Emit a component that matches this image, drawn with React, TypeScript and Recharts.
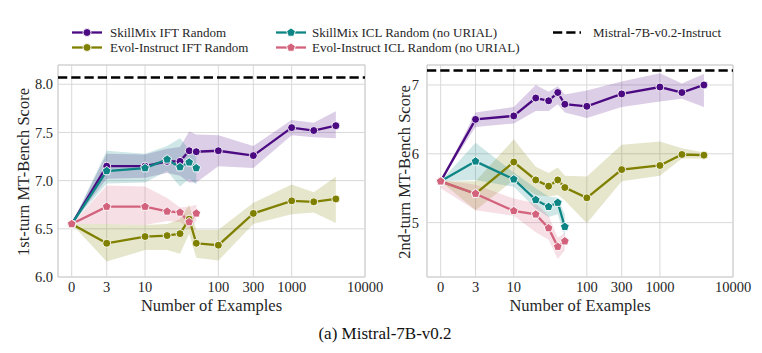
import React from 'react';
import { ComposedChart, Line, Area, XAxis, YAxis, CartesianGrid, ReferenceLine, ReferenceArea } from 'recharts';

// ---------- data ----------
const xValues = [0, 3, 10, 20, 30, 40, 50, 100, 300, 1000, 2000, 4000];
const xValuesICL = [0, 3, 10, 20, 30, 40, 50];
const xTicks = [0, 3, 10, 100, 300, 1000, 10000];

// 1st-turn
const t1SkillMixIFT = [6.55, 7.15, 7.15, 7.2, 7.2, 7.31, 7.3, 7.31, 7.26, 7.55, 7.52, 7.57];
const t1SkillMixIFTLow = [6.55, 7.02, 7.03, 7.08, 7.05, 6.98, 6.98, 7.15, 7.13, 7.47, 7.45, 7.44];
const t1SkillMixIFTHigh = [6.55, 7.28, 7.27, 7.33, 7.35, 7.51, 7.48, 7.47, 7.36, 7.63, 7.6, 7.72];

const t1EvolIFT = [6.55, 6.35, 6.42, 6.43, 6.45, 6.6, 6.35, 6.33, 6.66, 6.79, 6.78, 6.81];
const t1EvolIFTLow = [6.55, 6.16, 6.28, 6.28, 6.24, 6.45, 6.2, 6.17, 6.55, 6.65, 6.67, 6.56];
const t1EvolIFTHigh = [6.55, 6.55, 6.54, 6.55, 6.6, 6.75, 6.49, 6.49, 6.77, 6.96, 6.88, 7.04];

const t1SkillMixICL = [6.55, 7.1, 7.13, 7.22, 7.14, 7.19, 7.13];
const t1SkillMixICLLow = [6.55, 6.97, 6.98, 7.1, 6.94, 7.02, 6.96];
const t1SkillMixICLHigh = [6.55, 7.31, 7.28, 7.36, 7.44, 7.32, 7.25];

const t1EvolICL = [6.55, 6.73, 6.73, 6.68, 6.67, 6.57, 6.66];
const t1EvolICLLow = [6.55, 6.55, 6.54, 6.58, 6.57, 6.5, 6.58];
const t1EvolICLHigh = [6.55, 6.95, 6.94, 6.82, 6.72, 6.73, 6.75];

const t1Instruct = 8.07;

// 2nd-turn
const t2SkillMixIFT = [5.6, 6.5, 6.55, 6.81, 6.77, 6.89, 6.72, 6.69, 6.87, 6.97, 6.89, 7.0];
const t2SkillMixIFTLow = [5.6, 6.39, 6.44, 6.62, 6.62, 6.72, 6.6, 6.52, 6.68, 6.76, 6.8, 6.68];
const t2SkillMixIFTHigh = [5.6, 6.6, 6.68, 7.0, 6.9, 6.98, 6.86, 6.92, 7.05, 7.17, 7.02, 7.16];

const t2EvolIFT = [5.6, 5.42, 5.88, 5.62, 5.53, 5.62, 5.51, 5.36, 5.77, 5.83, 5.99, 5.98];
const t2EvolIFTLow = [5.6, 5.18, 5.62, 5.4, 5.38, 5.4, 5.32, 4.99, 5.6, 5.68, 5.93, 5.93];
const t2EvolIFTHigh = [5.6, 5.6, 6.21, 5.81, 5.72, 5.8, 5.68, 5.67, 6.13, 6.18, 6.08, 6.02];

const t2SkillMixICL = [5.6, 5.89, 5.63, 5.33, 5.23, 5.29, 4.94];
const t2SkillMixICLLow = [5.6, 5.62, 5.52, 5.2, 5.08, 5.12, 4.8];
const t2SkillMixICLHigh = [5.6, 6.16, 5.73, 5.5, 5.38, 5.36, 5.12];

const t2EvolICL = [5.6, 5.42, 5.17, 5.12, 4.92, 4.65, 4.73];
const t2EvolICLLow = [5.5, 5.18, 5.1, 4.86, 4.75, 4.47, 4.6];
const t2EvolICLHigh = [5.62, 5.55, 5.35, 5.28, 5.1, 4.78, 4.85];

const t2Instruct = 7.21;

const legendLabels = [
  'SkillMix IFT Random',
  'Evol-Instruct IFT Random',
  'SkillMix ICL Random (no URIAL)',
  'Evol-Instruct ICL Random (no URIAL)',
  'Mistral-7B-v0.2-Instruct',
];

// ---------- styles ----------
const C_PURPLE = '#4b0a82';
const C_OLIVE = '#808000';
const C_TEAL = '#0e8585';
const C_PINK = '#d3637d';
const FONT = 'Liberation Serif, Times New Roman, serif';
const TEXT = '#262626';
const GRID = '#d9d9d9';

const toPos = (x: number) => (x === 0 ? 1 : x);

function buildTable(
  sIFT: number[], sIFTLo: number[], sIFTHi: number[],
  eIFT: number[], eIFTLo: number[], eIFTHi: number[],
  sICL: number[], sICLLo: number[], sICLHi: number[],
  eICL: number[], eICLLo: number[], eICLHi: number[],
) {
  return xValues.map((x, i) => {
    const row: any = {
      x: toPos(x),
      sIFT: sIFT[i], sIFTBand: [sIFTLo[i], sIFTHi[i]],
      eIFT: eIFT[i], eIFTBand: [eIFTLo[i], eIFTHi[i]],
    };
    if (i < xValuesICL.length) {
      row.sICL = sICL[i];
      row.sICLBand = [sICLLo[i], sICLHi[i]];
      row.eICL = eICL[i];
      row.eICLBand = [eICLLo[i], eICLHi[i]];
    }
    return row;
  });
}

const data1 = buildTable(
  t1SkillMixIFT, t1SkillMixIFTLow, t1SkillMixIFTHigh,
  t1EvolIFT, t1EvolIFTLow, t1EvolIFTHigh,
  t1SkillMixICL, t1SkillMixICLLow, t1SkillMixICLHigh,
  t1EvolICL, t1EvolICLLow, t1EvolICLHigh,
);
const data2 = buildTable(
  t2SkillMixIFT, t2SkillMixIFTLow, t2SkillMixIFTHigh,
  t2EvolIFT, t2EvolIFTLow, t2EvolIFTHigh,
  t2SkillMixICL, t2SkillMixICLLow, t2SkillMixICLHigh,
  t2EvolICL, t2EvolICLLow, t2EvolICLHigh,
);

const pentagon = (cx: number, cy: number, r: number) =>
  [0, 1, 2, 3, 4]
    .map((i) => {
      const a = -Math.PI / 2 + (i * 2 * Math.PI) / 5;
      return `${cx + r * Math.cos(a)},${cy + r * Math.sin(a)}`;
    })
    .join(' ');

const makeDot = (color: string, shape: 'circle' | 'pentagon') => (props: any) => {
  const { cx, cy, index } = props;
  if (cx == null || cy == null || Number.isNaN(cx) || Number.isNaN(cy)) return <g key={`n${index}`} />;
  if (shape === 'circle')
    return <circle key={`c${index}`} cx={cx} cy={cy} r={4} fill={color} stroke="#fff" strokeWidth={0.9} />;
  return <polygon key={`p${index}`} points={pentagon(cx, cy, 4.6)} fill={color} stroke="#fff" strokeWidth={0.9} />;
};

type PanelProps = {
  data: any[];
  left: number;
  width: number;
  marginLeft: number;
  marginRight: number;
  yDomain: [number, number];
  yTicks: number[];
  yFmt: (v: number) => string;
  refY: number;
  yTickMargin: number;
};

const X_DOMAIN: [number, number] = [0.65, 10000];

function Panel(p: PanelProps) {
  const tickStyle = { fontFamily: FONT, fontSize: 14.5, fill: TEXT };
  return (
    <div style={{ position: 'absolute', left: p.left, top: 0 }}>
      <ComposedChart
        width={p.width}
        height={353}
        data={p.data}
        margin={{ top: 65, right: p.marginRight, bottom: 0, left: p.marginLeft }}
      >
        <CartesianGrid stroke={GRID} strokeWidth={1} />
        <XAxis
          dataKey="x"
          type="number"
          scale="log"
          domain={X_DOMAIN}
          allowDataOverflow
          ticks={xTicks.map(toPos)}
          interval={0}
          tickFormatter={(v: number) => (v === 1 ? '0' : String(v))}
          axisLine={false}
          tickLine={false}
          tickSize={0}
          tickMargin={5}
          height={76}
          tick={tickStyle}
        />
        <YAxis
          type="number"
          domain={p.yDomain}
          allowDataOverflow
          ticks={p.yTicks}
          interval={0}
          tickFormatter={p.yFmt}
          axisLine={false}
          tickLine={false}
          tickSize={0}
          tickMargin={p.yTickMargin}
          width={40}
          tick={tickStyle}
        />
        <ReferenceArea
          x1={X_DOMAIN[0]}
          x2={X_DOMAIN[1]}
          y1={p.yDomain[0]}
          y2={p.yDomain[1]}
          fill="none"
          stroke="#cfcfcf"
          strokeWidth={1}
          ifOverflow="visible"
        />
        <Area dataKey="sIFTBand" stroke="none" fill={C_PURPLE} fillOpacity={0.2} isAnimationActive={false} />
        <Area dataKey="eIFTBand" stroke="none" fill={C_OLIVE} fillOpacity={0.2} isAnimationActive={false} />
        <Area dataKey="sICLBand" stroke="none" fill={C_TEAL} fillOpacity={0.2} isAnimationActive={false} />
        <Area dataKey="eICLBand" stroke="none" fill={C_PINK} fillOpacity={0.2} isAnimationActive={false} />
        <ReferenceLine y={p.refY} stroke="#000" strokeWidth={2.5} strokeDasharray="9.25 4" ifOverflow="visible" />
        <Line dataKey="sIFT" stroke={C_PURPLE} strokeWidth={2.3} dot={makeDot(C_PURPLE, 'circle')} activeDot={false} isAnimationActive={false} />
        <Line dataKey="eIFT" stroke={C_OLIVE} strokeWidth={2.3} dot={makeDot(C_OLIVE, 'circle')} activeDot={false} isAnimationActive={false} />
        <Line dataKey="sICL" stroke={C_TEAL} strokeWidth={2.3} dot={makeDot(C_TEAL, 'pentagon')} activeDot={false} isAnimationActive={false} />
        <Line dataKey="eICL" stroke={C_PINK} strokeWidth={2.3} dot={makeDot(C_PINK, 'pentagon')} activeDot={false} isAnimationActive={false} />
      </ComposedChart>
    </div>
  );
}

function LegendIcon({ x, y, color, shape }: { x: number; y: number; color: string; shape: 'circle' | 'pentagon' }) {
  const cx = x + 15;
  return (
    <g>
      <line x1={x} x2={x + 30} y1={y} y2={y} stroke={color} strokeWidth={2.3} />
      {shape === 'circle' ? (
        <circle cx={cx} cy={y} r={4} fill={color} stroke="#fff" strokeWidth={0.9} />
      ) : (
        <polygon points={pentagon(cx, y, 4.6)} fill={color} stroke="#fff" strokeWidth={0.9} />
      )}
    </g>
  );
}

export default function App() {
  const textProps = { fontFamily: FONT, fill: TEXT };
  return (
    <div style={{ position: 'absolute', left: 0, top: 0, width: 762, height: 353, background: '#fff', overflow: 'hidden' }}>
      <Panel
        data={data1}
        left={0}
        width={400}
        marginLeft={18}
        marginRight={35}
        yDomain={[6.0, 8.2]}
        yTicks={[6.0, 6.5, 7.0, 7.5, 8.0]}
        yFmt={(v: number) => v.toFixed(1)}
        refY={t1Instruct}
        yTickMargin={5}
      />
      <Panel
        data={data2}
        left={380}
        width={382}
        marginLeft={7}
        marginRight={29}
        yDomain={[4.21, 7.29]}
        yTicks={[5, 6, 7]}
        yFmt={(v: number) => String(v)}
        refY={t2Instruct}
        yTickMargin={8}
      />
      <svg width={762} height={353} style={{ position: 'absolute', left: 0, top: 0, pointerEvents: 'none' }}>
        {/* legend */}
        <LegendIcon x={72} y={32.5} color={C_PURPLE} shape="circle" />
        <text x={110} y={32.5} fontSize={13} dominantBaseline="central" {...textProps}>{legendLabels[0]}</text>
        <LegendIcon x={72} y={47.5} color={C_OLIVE} shape="circle" />
        <text x={110} y={47.5} fontSize={13} dominantBaseline="central" {...textProps}>{legendLabels[1]}</text>
        <LegendIcon x={276} y={32.5} color={C_TEAL} shape="pentagon" />
        <text x={312} y={32.5} fontSize={13} dominantBaseline="central" {...textProps}>{legendLabels[2]}</text>
        <LegendIcon x={276} y={47.5} color={C_PINK} shape="pentagon" />
        <text x={312} y={47.5} fontSize={13} dominantBaseline="central" {...textProps}>{legendLabels[3]}</text>
        <line x1={553} x2={581} y1={32.5} y2={32.5} stroke="#000" strokeWidth={2.5} strokeDasharray="9.25 4" />
        <text x={593} y={32.5} fontSize={13} dominantBaseline="central" {...textProps}>{legendLabels[4]}</text>

        {/* axis labels */}
        <text x={23} y={172} fontSize={16.5} textAnchor="middle" dominantBaseline="central" transform="rotate(-90 23 172)" {...textProps}>
          1st-turn MT-Bench Score
        </text>
        <text x={404} y={172} fontSize={16.5} textAnchor="middle" dominantBaseline="central" transform="rotate(-90 404 172)" {...textProps}>
          2nd-turn MT-Bench Score
        </text>
        <text x={211.5} y={305} fontSize={16.5} textAnchor="middle" dominantBaseline="central" {...textProps}>Number of Examples</text>
        <text x={580} y={305} fontSize={16.5} textAnchor="middle" dominantBaseline="central" {...textProps}>Number of Examples</text>

        {/* caption */}
        <text x={385} y={333} fontSize={17} textAnchor="middle" dominantBaseline="central" fontFamily={FONT} fill="#111">
          (a) Mistral-7B-v0.2
        </text>
      </svg>
    </div>
  );
}
